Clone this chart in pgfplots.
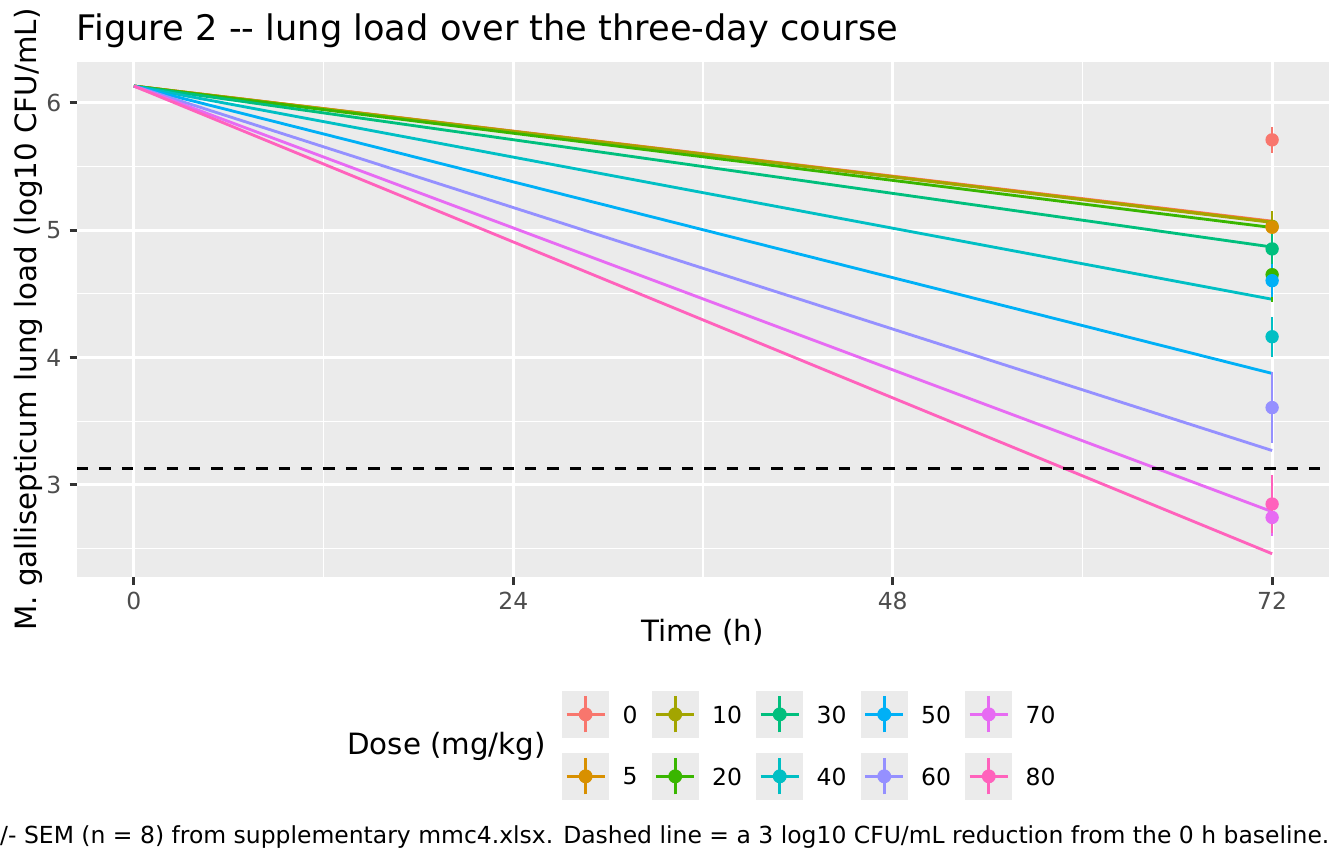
\documentclass[border=0pt]{standalone}
\usepackage{pgfplots}
\pgfplotsset{compat=1.18}
\usepackage{fontspec}
\setmainfont[Ligatures=TeXOff]{DejaVu Sans}
\definecolor{c0}{HTML}{F8766D}
\definecolor{c5}{HTML}{D89000}
\definecolor{c10}{HTML}{A3A500}
\definecolor{c20}{HTML}{39B600}
\definecolor{c30}{HTML}{00BF7D}
\definecolor{c40}{HTML}{00BFC4}
\definecolor{c50}{HTML}{00B0F6}
\definecolor{c60}{HTML}{9590FF}
\definecolor{c70}{HTML}{E76BF3}
\definecolor{c80}{HTML}{FF62BC}
\definecolor{ggbg}{HTML}{EBEBEB}
\definecolor{tickgray}{HTML}{4D4D4D}
\definecolor{tickline}{HTML}{333333}
\begin{document}
\begin{tikzpicture}
\useasboundingbox (0,0) rectangle (504bp,324bp);
\begin{axis}[
  at={(28.875bp,107.51bp)}, anchor=south west,
  scale only axis, width=469.5bp, height=193.24bp,
  xmin=-3.6, xmax=75.6, ymin=2.275, ymax=6.319,
  axis background/.style={fill=ggbg},
  axis line style={draw=none},
  xtick={0,24,48,72}, ytick={3,4,5,6},
  minor xtick={12,36,60}, minor ytick={2.5,3.5,4.5,5.5},
  grid=both,
  major grid style={white, line width=1.07bp},
  minor grid style={white, line width=0.53bp},
  tick align=outside, tick pos=left,
  major tick length=2.75bp, minor tick length=0pt,
  tick style={tickline, line width=1.07bp},
  tick label style={font=\fontsize{8.8bp}{10bp}\selectfont, text=tickgray, inner sep=0pt},
  xticklabel style={yshift=-2.7bp},
  yticklabel style={xshift=-2.9bp},
  /pgf/number format/assume math mode=true,
  legend columns=5,
  legend cell align=left,
  legend style={draw=none, fill=none, inner sep=0pt, outer sep=0pt,
    at={(0.3876,-0.2207)}, anchor=north west,
    nodes={inner sep=0pt, text depth=0pt, font=\fontsize{8.8bp}{10bp}\selectfont},
    row sep=5.74bp,
    /tikz/every odd column/.append style={column sep=5.1bp},
    /tikz/every even column/.append style={column sep=5.4bp}},
  legend image code/.code={
    \fill[ggbg] (0bp,-8.55bp) rectangle (17.1bp,8.55bp);
    \draw[line width=1bp, solid] (1.4bp,0bp) -- (15.7bp,0bp);
    \draw[line width=1bp, solid] (8.55bp,-6.75bp) -- (8.55bp,6.75bp);
    \fill (8.55bp,0bp) circle (2.4bp);
  },
]
% fitted lines
\addplot[c0, line width=1.07bp, forget plot] coordinates {(0,6.13) (72,5.07)};
\addplot[c5, line width=1.07bp, forget plot] coordinates {(0,6.13) (72,5.065)};
\addplot[c10, line width=1.07bp, forget plot] coordinates {(0,6.13) (72,5.06)};
\addplot[c20, line width=1.07bp, forget plot] coordinates {(0,6.13) (72,5.02)};
\addplot[c30, line width=1.07bp, forget plot] coordinates {(0,6.13) (72,4.867)};
\addplot[c40, line width=1.07bp, forget plot] coordinates {(0,6.13) (72,4.457)};
\addplot[c50, line width=1.07bp, forget plot] coordinates {(0,6.13) (72,3.875)};
\addplot[c60, line width=1.07bp, forget plot] coordinates {(0,6.13) (72,3.27)};
\addplot[c70, line width=1.07bp, forget plot] coordinates {(0,6.13) (72,2.79)};
\addplot[c80, line width=1.07bp, forget plot] coordinates {(0,6.13) (72,2.46)};
% error bars (mean +/- SEM)
\pgfplotsset{ebar/.style={only marks, mark=none, forget plot,
  error bars/.cd, y dir=both, y explicit, error mark=none,
  error bar style={line width=1bp, solid}}}
\addplot[c0, ebar] coordinates {(72,5.708) +- (0,0.100)};
\addplot[c5, ebar] coordinates {(72,5.022) +- (0,0.126)};
\addplot[c10, ebar] coordinates {(72,5.030) +- (0,0.120)};
\addplot[c20, ebar] coordinates {(72,4.650) +- (0,0.217)};
\addplot[c30, ebar] coordinates {(72,4.852) +- (0,0.180)};
\addplot[c40, ebar] coordinates {(72,4.163) +- (0,0.157)};
\addplot[c50, ebar] coordinates {(72,4.603) +- (0,0.130)};
\addplot[c60, ebar] coordinates {(72,3.607) +- (0,0.278)};
\addplot[c70, ebar] coordinates {(72,2.745) +- (0,0.145)};
\addplot[c80, ebar] coordinates {(72,2.850) +- (0,0.230)};
% means
\pgfplotsset{mpt/.style={only marks, mark=*, mark size=2.3bp, forget plot, mark options={solid, draw=none}}}
\addplot[c0, mpt] coordinates {(72,5.708)};
\addplot[c10, mpt] coordinates {(72,5.030)};
\addplot[c5, mpt] coordinates {(72,5.022)};
\addplot[c20, mpt] coordinates {(72,4.650)};
\addplot[c30, mpt] coordinates {(72,4.852)};
\addplot[c40, mpt] coordinates {(72,4.163)};
\addplot[c50, mpt] coordinates {(72,4.603)};
\addplot[c60, mpt] coordinates {(72,3.607)};
\addplot[c70, mpt] coordinates {(72,2.745)};
\addplot[c80, mpt] coordinates {(72,2.850)};
% 3 log10 reduction threshold
\addplot[black, line width=1.07bp, dash pattern=on 4.25bp off 4.15bp, forget plot] coordinates {(-3.6,3.13) (75.6,3.13)};
% legend (row-major order as in reference)
\addlegendimage{c0}\addlegendentry{0}
\addlegendimage{c10}\addlegendentry{10}
\addlegendimage{c30}\addlegendentry{30}
\addlegendimage{c50}\addlegendentry{50}
\addlegendimage{c70}\addlegendentry{70}
\addlegendimage{c5}\addlegendentry{5}
\addlegendimage{c20}\addlegendentry{20}
\addlegendimage{c40}\addlegendentry{40}
\addlegendimage{c60}\addlegendentry{60}
\addlegendimage{c80}\addlegendentry{80}
\end{axis}
\node[anchor=base west, inner sep=0pt, font=\fontsize{13.2bp}{15bp}\selectfont] at (28.6bp,308.7bp) {Figure 2 -- lung load over the three-day course};
\node[anchor=base, inner sep=0pt, font=\fontsize{11bp}{13bp}\selectfont] at (263.4bp,83.4bp) {Time (h)};
\node[rotate=90, anchor=base, inner sep=0pt, font=\fontsize{11bp}{13bp}\selectfont] at (13.75bp,204.1bp) {M. gallisepticum lung load (log10 CFU/mL)};
\node[anchor=base west, inner sep=0pt, font=\fontsize{11bp}{13bp}\selectfont] at (130.0bp,40.9bp) {Dose (mg/kg)};
\node[overlay, anchor=base east, inner sep=0pt, font=\fontsize{8.8bp}{10bp}\selectfont] at (498.7bp,7.76bp) {Points = mean +/- SEM (n = 8) from supplementary mmc4.xlsx. Dashed line = a 3 log10 CFU/mL reduction from the 0 h baseline.};
\end{tikzpicture}
\end{document}
